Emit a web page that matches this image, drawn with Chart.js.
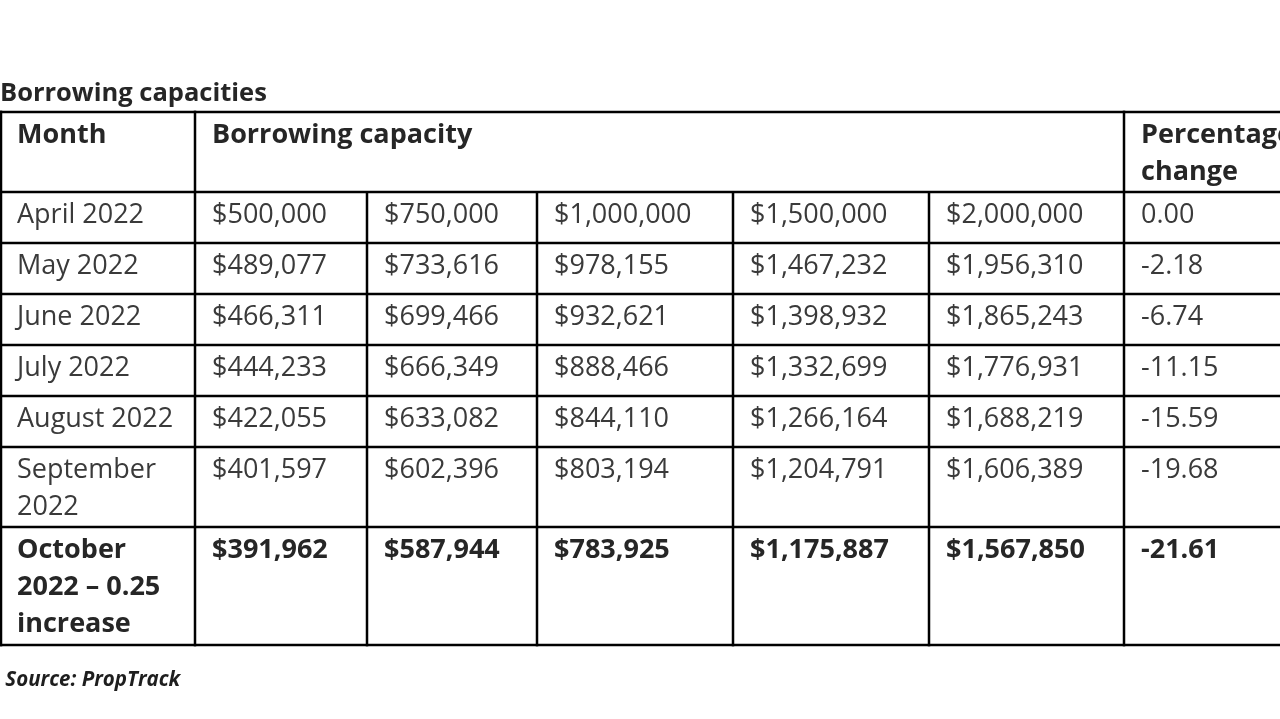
<!DOCTYPE html>
<html>
<head>
<meta charset="utf-8">
<title>Borrowing capacities</title>
<script src="https://cdn.jsdelivr.net/npm/chart.js@4"></script>
<style>
  html, body { margin: 0; padding: 0; background: #fff; }
  canvas { display: block; }
</style>
</head>
<body>
<canvas id="tabla" width="1280" height="719"></canvas>
<script>
// Datos de la tabla
var months = ['April 2022', 'May 2022', 'June 2022', 'July 2022', 'August 2022',
  ['September', '2022'], ['October', '2022 \u2013 0.25', 'increase']];
var cap500k = [500000, 489077, 466311, 444233, 422055, 401597, 391962];
var cap750k = [750000, 733616, 699466, 666349, 633082, 602396, 587944];
var cap1m   = [1000000, 978155, 932621, 888466, 844110, 803194, 783925];
var cap15m  = [1500000, 1467232, 1398932, 1332699, 1266164, 1204791, 1175887];
var cap2m   = [2000000, 1956310, 1865243, 1776931, 1688219, 1606389, 1567850];
var pctChange = [0.00, -2.18, -6.74, -11.15, -15.59, -19.68, -21.61];
var headers = ['Month', 'Borrowing capacity', ['Percentage', 'change']];
var boldRows = [6];

// Disposicion (no son datos)
var colWidths = [195, 172, 170, 196, 196, 195, 200];
var font = '"Open Sans", sans-serif';
var textColor = '#3a3a3a';
var boldColor = '#262626';
var lineColor = '#000';

function lines(v) { return Array.isArray(v) ? v : [v]; }
function rowHeight(n) { return Math.max(51, 42 + (n - 1) * 38); }
function money(v) { return '$' + v.toLocaleString('en-US'); }

var capCols = [cap500k, cap750k, cap1m, cap15m, cap2m];
var rows = months.map(function(m, i) {
    var cells = [lines(m)];
    capCols.forEach(function(c) { cells.push([money(c[i])]); });
    cells.push([pctChange[i].toFixed(2)]);
    return cells;
});

var rowHeights = [rowHeight(2)].concat(rows.map(function(r) {
    return rowHeight(lines(r[0]).length);
}));
var rowEdges = [0];
rowHeights.forEach(function(h) { rowEdges.push(rowEdges[rowEdges.length - 1] + h); });
var colEdges = [0];
colWidths.forEach(function(w) { colEdges.push(colEdges[colEdges.length - 1] + w); });
var tableHeight = rowEdges[rowEdges.length - 1];

var tablePlugin = {
    id: 'tabla',
    afterDraw: function(chart) {
        var ctx = chart.ctx;
        var xs = chart.scales.x, ys = chart.scales.y;
        var X = function(v) { return xs.getPixelForValue(v); };
        var Y = function(v) { return ys.getPixelForValue(v); };

        ctx.save();
        ctx.textBaseline = 'alphabetic';
        ctx.textAlign = 'left';

        function cellText(txt, col, row, bold) {
            ctx.font = (bold ? 'bold ' : '') + '27px ' + font;
            ctx.fillStyle = bold ? boldColor : textColor;
            lines(txt).forEach(function(t, k) {
                ctx.fillText(t, X(colEdges[col] + 17), Y(rowEdges[row] + 31 + k * 37));
            });
        }

        // Encabezado
        cellText(headers[0], 0, 0, true);
        cellText(headers[1], 1, 0, true);
        cellText(headers[2], 6, 0, true);

        // Filas
        rows.forEach(function(r, i) {
            var bold = boldRows.indexOf(i) >= 0;
            r.forEach(function(c, j) { cellText(c, j, i + 1, bold); });
        });

        // Lineas
        ctx.strokeStyle = lineColor;
        ctx.lineWidth = 2.5;
        ctx.beginPath();
        rowEdges.forEach(function(e) {
            var y = Math.round(Y(e));
            ctx.moveTo(X(0), y);
            ctx.lineTo(X(colEdges[colEdges.length - 1]), y);
        });
        colEdges.forEach(function(e, j) {
            if (j === colEdges.length - 1) return;
            var x = Math.round(X(e)) + (j === 0 ? 1 : 0);
            var top = (j === 0 || j === 1 || j === 6) ? 0 : rowEdges[1];
            ctx.moveTo(x, Y(top) - 1);
            ctx.lineTo(x, Y(tableHeight) + 1);
        });
        ctx.stroke();
        ctx.restore();
    }
};

new Chart(document.getElementById('tabla'), {
    type: 'scatter',
    data: { datasets: [] },
    options: {
        responsive: false,
        animation: false,
        layout: { padding: { top: 78, bottom: 27, left: 0, right: 0 } },
        plugins: {
            legend: { display: false },
            tooltip: { enabled: false },
            title: {
                display: true,
                text: 'Borrowing capacities',
                align: 'start',
                color: boldColor,
                font: { family: font, size: 25.5, weight: 'bold' },
                padding: { top: 0, bottom: 3 }
            },
            subtitle: {
                display: true,
                position: 'bottom',
                text: ' Source: PropTrack',
                align: 'start',
                color: '#1e1e1e',
                font: { family: font, size: 20.5, weight: 'bold', style: 'italic' },
                padding: { top: 22, bottom: 0 }
            }
        },
        scales: {
            x: { type: 'linear', display: false, min: 0, max: 1280 },
            y: { type: 'linear', display: false, reverse: true, min: 0, max: tableHeight }
        }
    },
    plugins: [tablePlugin]
});
</script>
</body>
</html>
